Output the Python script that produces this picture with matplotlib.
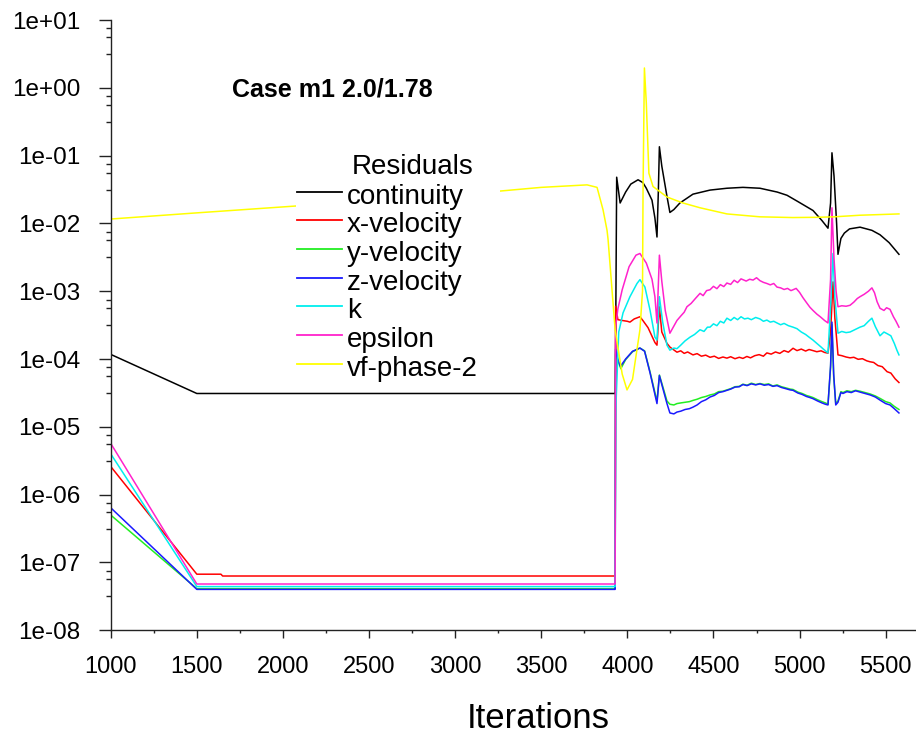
"""Residual history for case m1 2.0/1.78 (Fluent-style log plot)."""
import matplotlib
matplotlib.use("Agg")
import matplotlib.pyplot as plt
from matplotlib.lines import Line2D
from matplotlib.patches import Rectangle
from matplotlib.ticker import FixedLocator, FuncFormatter, MultipleLocator

plt.rcParams["font.family"] = ["Liberation Sans", "DejaVu Sans"]

W, H = 916, 737

# ---- data (iteration, residual) ----
cont_it = [1000, 1500, 3925, 3930, 3938, 3958, 3990, 4020, 4062, 4090, 4110, 4143, 4160, 4172,
           4180, 4186, 4200, 4230, 4247, 4270, 4305, 4381, 4480, 4578, 4671, 4770, 4870, 4927,
           4990, 5078, 5130, 5165, 5180, 5188, 5200, 5215, 5223, 5240, 5260, 5290, 5351, 5420,
           5467, 5520, 5577]
cont_v = [1.17e-4, 3.1e-5, 3.1e-5, 3.1e-5, 0.048, 0.020, 0.029, 0.038, 0.044, 0.040, 0.033,
          0.022, 0.012, 0.0063, 0.03, 0.135, 0.07, 0.025, 0.0145, 0.016, 0.020, 0.027, 0.031,
          0.033, 0.034, 0.033, 0.029, 0.026, 0.021, 0.0155, 0.011, 0.0085, 0.02, 0.11, 0.05,
          0.01, 0.0035, 0.006, 0.0072, 0.0083, 0.0088, 0.0079, 0.0068, 0.0052, 0.0035]

xvel_it = [1000, 1500, 1640, 1650, 3925, 3929, 3932, 3945, 3970, 4000, 4015, 4040, 4073, 4090,
           4120, 4160, 4172, 4186, 4200, 4230, 4247, 4288, 4310, 4330, 4350, 4381, 4405, 4430,
           4455, 4480, 4505, 4530, 4555, 4578, 4600, 4625, 4650, 4671, 4694, 4715, 4740, 4765,
           4790, 4810, 4835, 4860, 4885, 4910, 4935, 4962, 4985, 5010, 5035, 5055, 5078, 5100,
           5125, 5145, 5165, 5180, 5194, 5205, 5223, 5245, 5270, 5293, 5315, 5340, 5365, 5390,
           5409, 5430, 5455, 5480, 5508, 5530, 5555, 5577]
xvel_v = [2.6e-6, 6.7e-8, 6.7e-8, 6.3e-8, 6.3e-8, 6.3e-8, 6.0e-4, 3.8e-4, 3.7e-4, 3.6e-4,
          3.5e-4, 3.9e-4, 4.2e-4, 3.7e-4, 2.9e-4, 1.75e-4, 1.6e-4, 5.9e-4, 2.5e-4, 1.7e-4,
          1.5e-4, 1.26e-4, 1.32e-4, 1.21e-4, 1.27e-4, 1.15e-4, 1.20e-4, 1.10e-4, 1.14e-4,
          1.06e-4, 1.10e-4, 1.02e-4, 1.07e-4, 1.03e-4, 1.08e-4, 1.01e-4, 1.06e-4, 1.02e-4,
          1.09e-4, 1.04e-4, 1.12e-4, 1.16e-4, 1.10e-4, 1.23e-4, 1.18e-4, 1.27e-4, 1.21e-4,
          1.33e-4, 1.26e-4, 1.44e-4, 1.33e-4, 1.40e-4, 1.31e-4, 1.38e-4, 1.33e-4, 1.28e-4,
          1.32e-4, 1.25e-4, 1.22e-4, 2.5e-4, 1.37e-3, 4.0e-4, 1.15e-4, 1.12e-4, 1.07e-4,
          1.04e-4, 1.06e-4, 9.9e-5, 1.01e-4, 9.4e-5, 9.1e-5, 8.9e-5, 8.0e-5, 7.7e-5, 6.5e-5,
          6.2e-5, 5.1e-5, 4.5e-5]

yvel_it = [1000, 1500, 3925, 3929, 3932, 3945, 3962, 3990, 4030, 4073, 4100, 4132, 4160, 4172,
           4186, 4200, 4230, 4247, 4270, 4288, 4310, 4335, 4360, 4381, 4405, 4430, 4455, 4480,
           4505, 4530, 4555, 4578, 4600, 4625, 4650, 4671, 4695, 4720, 4745, 4770, 4795, 4820,
           4845, 4869, 4895, 4920, 4945, 4962, 4990, 5015, 5040, 5060, 5078, 5105, 5130, 5150,
           5165, 5180, 5188, 5198, 5210, 5223, 5240, 5252, 5275, 5300, 5325, 5351, 5380, 5410,
           5440, 5470, 5500, 5525, 5550, 5577]
yvel_v = [5.0e-7, 4.1e-8, 4.1e-8, 4.1e-8, 1.2e-4, 9.5e-5, 7.2e-5, 9.8e-5, 1.28e-4, 1.45e-4,
          1.32e-4, 6.4e-5, 3.2e-5, 2.4e-5, 5.8e-5, 4.4e-5, 2.4e-5, 2.15e-5, 2.1e-5, 2.2e-5,
          2.25e-5, 2.3e-5, 2.35e-5, 2.45e-5, 2.55e-5, 2.7e-5, 2.8e-5, 2.95e-5, 3.05e-5, 3.3e-5,
          3.35e-5, 3.5e-5, 3.65e-5, 3.9e-5, 3.95e-5, 4.25e-5, 4.1e-5, 4.4e-5, 4.2e-5, 4.35e-5,
          4.2e-5, 4.3e-5, 4.0e-5, 4.15e-5, 3.9e-5, 3.75e-5, 3.6e-5, 3.55e-5, 3.25e-5, 3.1e-5,
          2.9e-5, 2.8e-5, 2.7e-5, 2.5e-5, 2.35e-5, 2.25e-5, 2.15e-5, 7.5e-5, 3.2e-4, 5.5e-5,
          2.2e-5, 2.4e-5, 3.3e-5, 3.2e-5, 3.4e-5, 3.3e-5, 3.45e-5, 3.35e-5, 3.2e-5, 3.05e-5,
          2.85e-5, 2.6e-5, 2.35e-5, 2.25e-5, 2.0e-5, 1.8e-5]

zvel_it = [1000, 1500, 3925, 3929, 3932, 3945, 3960, 3990, 4030, 4073, 4100, 4132, 4160, 4172,
           4186, 4200, 4230, 4247, 4270, 4288, 4310, 4335, 4360, 4381, 4405, 4430, 4455, 4480,
           4505, 4530, 4555, 4578, 4600, 4625, 4650, 4671, 4695, 4720, 4745, 4770, 4795, 4820,
           4845, 4869, 4895, 4920, 4945, 4962, 4990, 5015, 5040, 5060, 5078, 5105, 5130, 5150,
           5165, 5180, 5188, 5198, 5210, 5223, 5240, 5252, 5275, 5300, 5325, 5351, 5380, 5410,
           5440, 5470, 5500, 5525, 5550, 5577]
zvel_v = [6.4e-7, 4.0e-8, 4.0e-8, 4.0e-8, 1.4e-4, 9.8e-5, 7.8e-5, 1.0e-4, 1.3e-4, 1.45e-4,
          1.3e-4, 6.2e-5, 3.0e-5, 2.2e-5, 5.7e-5, 4.2e-5, 2.2e-5, 1.6e-5, 1.55e-5, 1.65e-5,
          1.7e-5, 1.8e-5, 1.85e-5, 1.95e-5, 2.1e-5, 2.35e-5, 2.5e-5, 2.75e-5, 2.9e-5, 3.2e-5,
          3.3e-5, 3.45e-5, 3.6e-5, 3.85e-5, 3.9e-5, 4.2e-5, 4.05e-5, 4.3e-5, 4.15e-5, 4.3e-5,
          4.1e-5, 4.2e-5, 3.95e-5, 4.05e-5, 3.8e-5, 3.65e-5, 3.5e-5, 3.45e-5, 3.15e-5, 3.0e-5,
          2.8e-5, 2.7e-5, 2.6e-5, 2.4e-5, 2.25e-5, 2.15e-5, 2.1e-5, 8e-5, 3.5e-4, 6e-5, 2.1e-5,
          2.3e-5, 3.2e-5, 3.1e-5, 3.3e-5, 3.2e-5, 3.4e-5, 3.25e-5, 3.1e-5, 2.95e-5, 2.75e-5,
          2.45e-5, 2.2e-5, 2.1e-5, 1.85e-5, 1.6e-5]

k_it = [1000, 1500, 3925, 3929, 3932, 3950, 3975, 4015, 4056, 4073, 4102, 4132, 4160, 4172,
        4186, 4205, 4230, 4247, 4270, 4288, 4310, 4335, 4364, 4390, 4422, 4445, 4465, 4480,
        4500, 4520, 4540, 4560, 4578, 4600, 4620, 4640, 4660, 4680, 4700, 4720, 4745, 4770,
        4790, 4810, 4830, 4850, 4869, 4890, 4910, 4935, 4962, 4985, 5010, 5035, 5055, 5078,
        5100, 5125, 5145, 5165, 5180, 5194, 5205, 5223, 5245, 5270, 5293, 5320, 5351, 5375,
        5400, 5420, 5440, 5467, 5490, 5510, 5530, 5550, 5565, 5577]
k_v = [4.0e-6, 4.4e-8, 4.4e-8, 4.4e-8, 1.6e-5, 2.5e-4, 4.8e-4, 8.3e-4, 1.3e-3, 1.48e-3,
       1.15e-3, 5.2e-4, 2.1e-4, 1.9e-4, 8.3e-4, 3.5e-4, 1.6e-4, 1.35e-4, 1.45e-4, 1.42e-4,
       1.60e-4, 1.85e-4, 2.1e-4, 2.3e-4, 2.7e-4, 2.55e-4, 2.95e-4, 2.95e-4, 3.3e-4, 3.1e-4,
       3.6e-4, 3.4e-4, 4.0e-4, 3.7e-4, 4.1e-4, 3.8e-4, 4.2e-4, 3.9e-4, 4.0e-4, 3.8e-4, 4.1e-4,
       3.9e-4, 3.6e-4, 3.75e-4, 3.5e-4, 3.6e-4, 3.4e-4, 3.2e-4, 3.35e-4, 3.1e-4, 2.95e-4,
       2.8e-4, 2.5e-4, 2.3e-4, 2.1e-4, 1.9e-4, 1.7e-4, 1.5e-4, 1.35e-4, 1.23e-4, 6e-4, 3.6e-3,
       8e-4, 2.4e-4, 2.55e-4, 2.45e-4, 2.5e-4, 2.7e-4, 2.95e-4, 3.1e-4, 3.6e-4, 4.0e-4, 3.0e-4,
       2.2e-4, 2.5e-4, 2.35e-4, 2.2e-4, 1.7e-4, 1.35e-4, 1.15e-4]

eps_it = [1000, 1500, 3925, 3929, 3932, 3945, 3970, 4010, 4050, 4073, 4110, 4143, 4160, 4172,
          4186, 4200, 4220, 4247, 4288, 4310, 4330, 4346, 4370, 4395, 4422, 4440, 4460, 4480,
          4500, 4520, 4540, 4560, 4578, 4600, 4620, 4640, 4660, 4671, 4690, 4710, 4730, 4750,
          4770, 4790, 4810, 4830, 4850, 4869, 4890, 4910, 4930, 4950, 4962, 4980, 5000, 5020,
          5040, 5060, 5078, 5100, 5120, 5145, 5165, 5180, 5188, 5200, 5212, 5223, 5245, 5270,
          5293, 5315, 5335, 5351, 5375, 5400, 5420, 5435, 5450, 5467, 5490, 5505, 5525, 5545,
          5560, 5577]
eps_v = [5.7e-6, 4.8e-8, 4.8e-8, 4.8e-8, 3.0e-4, 5.5e-4, 1.05e-3, 2.3e-3, 3.4e-3, 3.6e-3,
         2.6e-3, 1.5e-3, 8.3e-4, 3.4e-4, 3.4e-3, 1.4e-3, 5.2e-4, 2.4e-4, 3.7e-4, 4.3e-4,
         4.9e-4, 5.9e-4, 6.6e-4, 7.8e-4, 9.3e-4, 8.6e-4, 1.02e-3, 1.05e-3, 1.18e-3, 1.09e-3,
         1.25e-3, 1.17e-3, 1.32e-3, 1.26e-3, 1.45e-3, 1.34e-3, 1.52e-3, 1.48e-3, 1.41e-3,
         1.50e-3, 1.46e-3, 1.58e-3, 1.43e-3, 1.35e-3, 1.30e-3, 1.24e-3, 1.30e-3, 1.15e-3,
         1.12e-3, 1.06e-3, 1.10e-3, 1.02e-3, 1.05e-3, 1.10e-3, 9.6e-4, 8.0e-4, 6.8e-4, 5.8e-4,
         5.2e-4, 4.6e-4, 4.2e-4, 3.7e-4, 3.4e-4, 1.5e-3, 1.7e-2, 3.0e-3, 1.0e-3, 5.9e-4, 6.1e-4,
         6.0e-4, 6.2e-4, 6.9e-4, 7.8e-4, 8.3e-4, 9.0e-4, 1.0e-3, 1.12e-3, 9.5e-4, 7.0e-4,
         5.6e-4, 5.2e-4, 5.7e-4, 5.4e-4, 4.2e-4, 3.6e-4, 2.95e-4]

vf_it = [1000, 1500, 2082, 2500, 3000, 3261, 3500, 3766, 3824, 3859, 3882, 3888, 3929, 3970,
         3998, 4030, 4044, 4073, 4088, 4091, 4099, 4110, 4125, 4149, 4230, 4323, 4422, 4578,
         4770, 4960, 5100, 5200, 5351, 5467, 5577]
vf_v = [0.0116, 0.0143, 0.0181, 0.0215, 0.026, 0.030, 0.034, 0.037, 0.034, 0.0158, 0.0079,
        0.0058, 2.7e-4, 6e-5, 3.5e-5, 5e-5, 8.7e-5, 2.7e-4, 1e-3, 0.03, 1.96, 0.6, 0.055, 0.035,
        0.0245, 0.020, 0.017, 0.0138, 0.0125, 0.0122, 0.0123, 0.0125, 0.0132, 0.0135, 0.0138]

names = ["continuity", "x-velocity", "y-velocity", "z-velocity", "k", "epsilon", "vf-phase-2"]
colors = ["black", "#ff0000", "#22ee22", "#1a1aff", "#00eeee", "#ff22cc", "#ffff00"]
series = [(cont_it, cont_v), (xvel_it, xvel_v), (yvel_it, yvel_v), (zvel_it, zvel_v),
          (k_it, k_v), (eps_it, eps_v), (vf_it, vf_v)]


def fx(px):
    return px / W


def fy(py):
    return 1 - py / H


fig = plt.figure(figsize=(W / 100, H / 100), dpi=100)
ax = fig.add_axes([fx(110.7), fy(630.2), 1 - fx(110.7), fy(20) - fy(630.2)])
for (it, v), c in zip(series, colors):
    ax.plot(it, v, color=c, lw=1.1)

ax.set_yscale("log")
ax.set_xlim(1000, 5676)
ax.set_ylim(1e-8, 10)
ax.xaxis.set_major_locator(MultipleLocator(500))
ax.xaxis.set_minor_locator(MultipleLocator(250))
ax.yaxis.set_major_locator(FixedLocator([10.0 ** d for d in range(-8, 2)]))
ax.yaxis.set_minor_locator(FixedLocator([10.0 ** (d + f) for d in range(-8, 1)
                                         for f in (0.5, 0.75, 0.875)]))
ax.yaxis.set_major_formatter(FuncFormatter(lambda v, p: f"{v:.0e}"))
ax.yaxis.set_minor_formatter(FuncFormatter(lambda v, p: ""))
for s in ("top", "right"):
    ax.spines[s].set_visible(False)
for s in ("left", "bottom"):
    ax.spines[s].set_linewidth(1.0)
    ax.spines[s].set_color("#222222")
ax.tick_params(axis="y", which="major", direction="out", length=8.6, width=1.0,
               labelsize=17.5, pad=13, color="#222222")
ax.tick_params(axis="y", which="minor", direction="out", length=3.6, width=1.0, color="#222222")
ax.tick_params(axis="x", which="major", direction="out", length=5.5, width=1.0,
               labelsize=17, pad=13, color="#222222")
ax.tick_params(axis="x", which="minor", direction="out", length=2.5, width=1.0, color="#222222")

fig.text(fx(538), fy(718), "Iterations", ha="center", va="center", size=25)
fig.text(fx(232), fy(96.7), "Case m1 2.0/1.78", weight="bold", size=18, va="baseline")

# legend box: opaque, hides the curves passing behind it
fig.add_artist(Rectangle((fx(296), fy(380)), fx(500) - fx(296), fy(146) - fy(380),
                         facecolor="white", edgecolor="none", zorder=1))
fig.text(fx(352), fy(174), "Residuals", size=20, va="baseline", zorder=3)
for i, (n, c) in enumerate(zip(names, colors)):
    ly = 191.7 + i * 28.7
    fig.add_artist(Line2D([fx(297), fx(342)], [fy(ly), fy(ly)], color=c, lw=1.3, zorder=2))
    fig.text(fx(347), fy(ly + 12), n, size=20, va="baseline", zorder=3)

fig.savefig("out.png", dpi=100)
print("wrote out.png")
